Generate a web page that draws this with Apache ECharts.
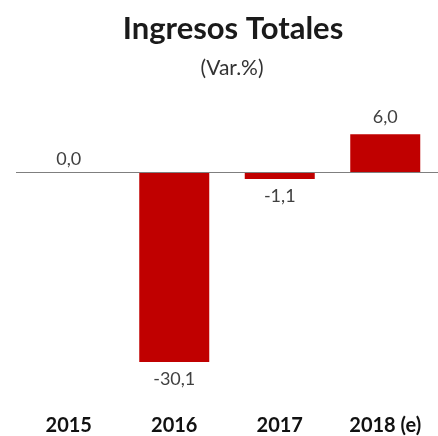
<!DOCTYPE html>
<html>
<head>
<meta charset="utf-8">
<script src="https://cdn.jsdelivr.net/npm/echarts@6/dist/echarts.min.js"></script>
<style>
  html, body { margin: 0; padding: 0; background: #fff; }
  #chart { width: 438px; height: 436px; }
</style>
</head>
<body>
<div id="chart"></div>
<script>
// años
const years = ["2015", "2016", "2017", "2018 (e)"];
// variación %
const values = [0.0, -30.1, -1.1, 6.0];

const myChart = echarts.init(document.getElementById("chart"));

const fmt = (v) => v.toFixed(1).replace(".", ",");

const option = {
  animation: false,
  title: [
    {
      text: "Ingresos Totales",
      left: 228,
      top: 8,
      textAlign: "center",
      textStyle: {
        fontFamily: "Lato",
        fontWeight: "bold",
        fontSize: 31,
        color: "#1a1a1a",
      },
    },
    {
      text: "(Var.%)",
      left: 227,
      top: 53,
      textAlign: "center",
      textStyle: {
        fontFamily: "Lato",
        fontWeight: "normal",
        fontSize: 21,
        color: "#333",
      },
    },
  ],
  grid: {
    left: 16,
    right: -2,
    top: 109,
    bottom: 40,
  },
  xAxis: {
    type: "category",
    data: years,
    axisLine: { show: false, onZero: false },
    axisTick: { show: false },
    axisLabel: {
      margin: 26,
      lineHeight: 14,
      fontFamily: "Lato",
      fontWeight: "bold",
      fontSize: 20,
      color: "#111",
    },
  },
  yAxis: {
    type: "value",
    min: -35,
    max: 10,
    show: false,
    splitLine: { show: false },
  },
  series: [
    {
      type: "bar",
      data: values.map((v) => ({
        value: v,
        label: {
          position: v < 0 ? "bottom" : "top",
          distance: v < 0 ? 8 : (v === 0 ? 4 : 8),
        },
      })),
      barWidth: 70,
      itemStyle: { color: "#C00000" },
      label: {
        show: true,
        formatter: (p) => fmt(p.value),
        fontFamily: "Lato",
        fontSize: 18,
        color: "#404040",
      },
      markLine: {
        silent: true,
        symbol: "none",
        label: { show: false },
        lineStyle: { color: "#7f7f7f", width: 1, type: "solid" },
        data: [{ yAxis: 0 }],
      },
    },
  ],
};

myChart.setOption(option);
</script>
</body>
</html>
